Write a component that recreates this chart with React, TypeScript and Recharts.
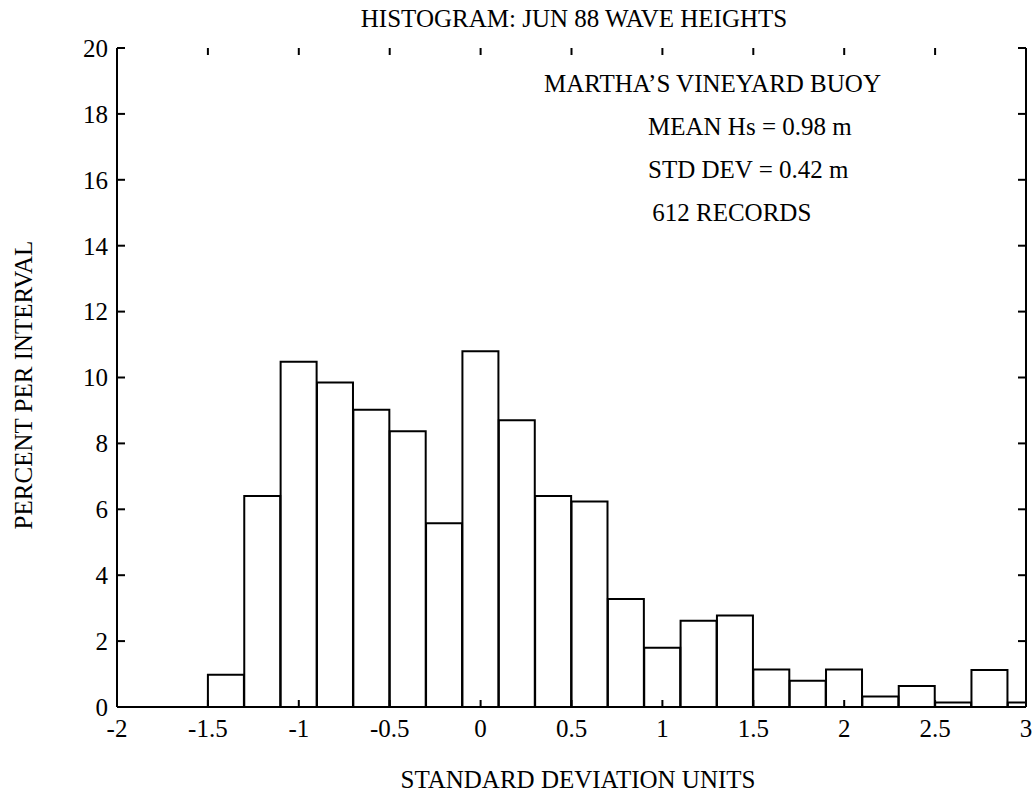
import React from "react";
import { ComposedChart, Bar, XAxis, YAxis } from "recharts";

const binCenters = [-1.4, -1.2, -1.0, -0.8, -0.6, -0.4, -0.2, 0, 0.2, 0.4, 0.6, 0.8, 1.0, 1.2, 1.4, 1.6, 1.8, 2.0, 2.2, 2.4, 2.6, 2.8, 3.0];
const percentPerInterval = [0.98, 6.4, 10.48, 9.85, 9.02, 8.37, 5.58, 10.8, 8.7, 6.4, 6.24, 3.28, 1.8, 2.62, 2.78, 1.14, 0.8, 1.14, 0.32, 0.64, 0.14, 1.12, 0.14];
const xTicks = [-2, -1.5, -1, -0.5, 0, 0.5, 1, 1.5, 2, 2.5, 3];
const yTicks = [0, 2, 4, 6, 8, 10, 12, 14, 16, 18, 20];
const title = "HISTOGRAM: JUN 88 WAVE HEIGHTS";
const xLabel = "STANDARD DEVIATION UNITS";
const yLabel = "PERCENT PER INTERVAL";
const notes = ["MARTHA\u2019S VINEYARD BUOY", "MEAN Hs = 0.98 m", "STD DEV = 0.42 m", " 612 RECORDS"];

const data = binCenters.map((x, i) => ({ x, pct: percentPerInterval[i] }));

const FONT = "'Liberation Serif', 'Times New Roman', serif";
const PLOT_TOP = 48;
const X_TICK_MARGIN = 12;
const TICK_LEN = 7;
const tickStyle = { fontFamily: FONT, fontSize: 25, fill: "#000" };
const axisLineStyle = { stroke: "#000", strokeWidth: 2 };
const tickLineStyle = { stroke: "#000", strokeWidth: 2 };

const EmptyTick = () => <g />;

// bottom tick label, inward tick mark on the bottom axis, and the matching inward tick on the top frame
const XTick = (props: any) => {
  const { x, y, payload } = props;
  const axisY = y - X_TICK_MARGIN;
  return (
    <g>
      <text x={x} y={y} dy="0.71em" textAnchor="middle" fontFamily={FONT} fontSize={25} fill="#000">
        {payload.value}
      </text>
      <line x1={x} x2={x} y1={axisY} y2={axisY - TICK_LEN} stroke="#000" strokeWidth={2} />
      <line x1={x} x2={x} y1={PLOT_TOP} y2={PLOT_TOP + TICK_LEN} stroke="#000" strokeWidth={2} />
    </g>
  );
};

export default function App() {
  return (
    <div style={{ position: "absolute", left: 0, top: 0, width: 1036, height: 800, background: "#fff" }}>
      <ComposedChart
        width={1036}
        height={800}
        data={data}
        margin={{ top: PLOT_TOP, right: 10, bottom: 53, left: 57 }}
        barCategoryGap={0}
        barGap={0}
      >
        <XAxis
          xAxisId="top"
          dataKey="x"
          type="number"
          orientation="top"
          height={0}
          domain={[-2, 3]}
          allowDataOverflow
          ticks={xTicks}
          interval={0}
          tick={EmptyTick}
          tickLine={false}
          axisLine={axisLineStyle}
        />
        <YAxis
          yAxisId="right"
          type="number"
          orientation="right"
          mirror
          domain={[0, 20]}
          allowDataOverflow
          ticks={yTicks}
          interval={0}
          tick={EmptyTick}
          tickSize={8}
          tickLine={tickLineStyle}
          axisLine={axisLineStyle}
        />
        <Bar
          xAxisId="main"
          yAxisId="main"
          dataKey="pct"
          fill="none"
          stroke="#000"
          strokeWidth={2}
          isAnimationActive={false}
        />
        <XAxis
          xAxisId="main"
          dataKey="x"
          type="number"
          domain={[-2, 3]}
          allowDataOverflow
          ticks={xTicks}
          interval={0}
          height={40}
          tickLine={false}
          tickSize={0}
          tickMargin={X_TICK_MARGIN}
          axisLine={axisLineStyle}
          tick={<XTick />}
        />
        <YAxis
          yAxisId="main"
          type="number"
          domain={[0, 20]}
          allowDataOverflow
          ticks={yTicks}
          interval={0}
          width={60}
          tickLine={tickLineStyle}
          tickSize={-8}
          tickMargin={17}
          axisLine={axisLineStyle}
          tick={tickStyle}
        />
      </ComposedChart>
      <svg
        width={1036}
        height={800}
        style={{ position: "absolute", left: 0, top: 0, pointerEvents: "none" }}
      >
        <text x={574} y={27} textAnchor="middle" fontFamily={FONT} fontSize={25} fill="#000">
          {title}
        </text>
        <text x={544} y={92} textAnchor="start" fontFamily={FONT} fontSize={25} fill="#000">
          {notes[0]}
        </text>
        <text x={648} y={135} textAnchor="start" fontFamily={FONT} fontSize={25} fill="#000">
          {notes[1]}
        </text>
        <text x={648} y={178} textAnchor="start" fontFamily={FONT} fontSize={25} fill="#000">
          {notes[2]}
        </text>
        <text x={646} y={221} textAnchor="start" fontFamily={FONT} fontSize={25} fill="#000" xmlSpace="preserve">
          {notes[3]}
        </text>
        <text x={578} y={788} textAnchor="middle" fontFamily={FONT} fontSize={25} fill="#000">
          {xLabel}
        </text>
        <text
          x={0}
          y={0}
          transform="translate(32,385) rotate(-90)"
          textAnchor="middle"
          fontFamily={FONT}
          fontSize={25}
          fill="#000"
        >
          {yLabel}
        </text>
      </svg>
    </div>
  );
}
